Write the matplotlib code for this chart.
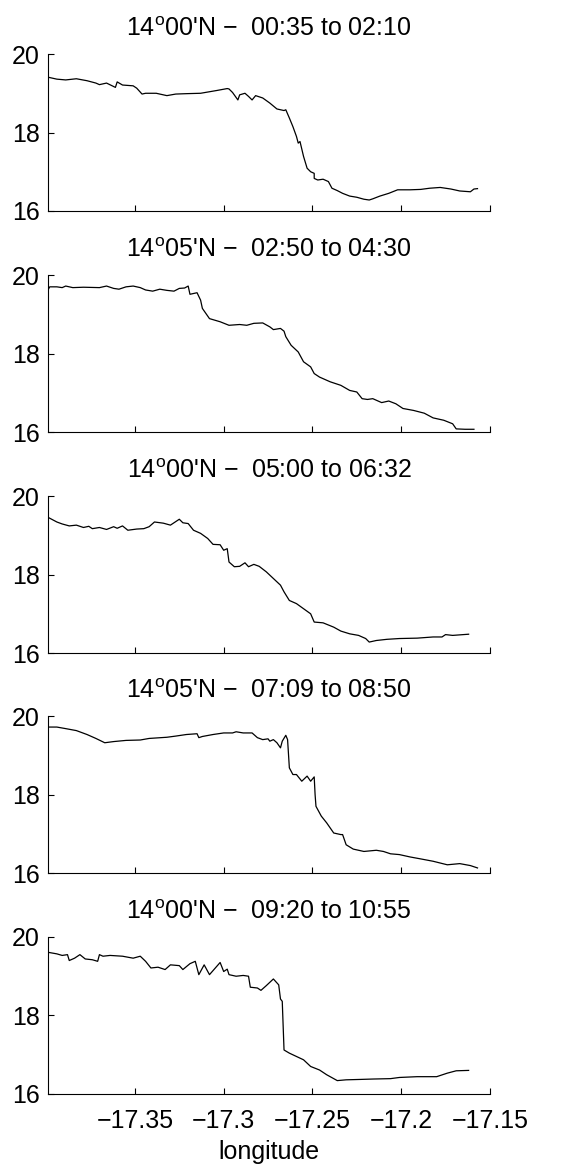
import matplotlib
matplotlib.use('Agg')
import matplotlib.pyplot as plt

plt.rcParams['font.family'] = ['Liberation Sans', 'DejaVu Sans']
plt.rcParams['mathtext.fontset'] = 'custom'
plt.rcParams['mathtext.rm'] = 'Liberation Sans'

# section titles
titles = [
    r"14$^{\mathrm{o}}$00'N $-$  00:35 to 02:10",
    r"14$^{\mathrm{o}}$05'N $-$  02:50 to 04:30",
    r"14$^{\mathrm{o}}$00'N $-$  05:00 to 06:32",
    r"14$^{\mathrm{o}}$05'N $-$  07:09 to 08:50",
    r"14$^{\mathrm{o}}$00'N $-$  09:20 to 10:55",
]

# section 1
lon1 = [-17.399, -17.394, -17.389, -17.383, -17.377, -17.372, -17.370, -17.366, -17.361, -17.360,
        -17.357, -17.351, -17.349, -17.346, -17.344, -17.338, -17.332, -17.327, -17.321, -17.313,
        -17.304, -17.298, -17.297, -17.295, -17.292, -17.291, -17.288, -17.286, -17.284, -17.282,
        -17.278, -17.274, -17.270, -17.266, -17.265, -17.263, -17.261, -17.259, -17.258, -17.257,
        -17.255, -17.253, -17.251, -17.249, -17.249, -17.247, -17.244, -17.241, -17.239, -17.236,
        -17.233, -17.229, -17.225, -17.221, -17.218, -17.216, -17.212, -17.207, -17.202, -17.195,
        -17.189, -17.184, -17.178, -17.172, -17.167, -17.161, -17.159, -17.157]
val1 = [19.41, 19.36, 19.34, 19.37, 19.32, 19.26, 19.22, 19.26, 19.15, 19.29,
        19.21, 19.19, 19.13, 18.98, 19.00, 19.00, 18.94, 18.98, 18.99, 19.00,
        19.07, 19.12, 19.11, 19.02, 18.83, 18.96, 19.00, 18.92, 18.83, 18.94,
        18.88, 18.75, 18.60, 18.56, 18.58, 18.37, 18.15, 17.90, 17.73, 17.77,
        17.39, 17.09, 17.00, 16.96, 16.83, 16.79, 16.81, 16.75, 16.58, 16.52,
        16.45, 16.38, 16.35, 16.30, 16.28, 16.31, 16.38, 16.45, 16.54, 16.54,
        16.55, 16.58, 16.60, 16.56, 16.51, 16.49, 16.56, 16.57]

# section 2
lon2 = [-17.399, -17.398, -17.394, -17.391, -17.389, -17.385, -17.379, -17.370, -17.366, -17.362,
        -17.359, -17.355, -17.351, -17.347, -17.344, -17.340, -17.336, -17.332, -17.328, -17.325,
        -17.322, -17.320, -17.319, -17.315, -17.313, -17.312, -17.308, -17.302, -17.297, -17.291,
        -17.287, -17.283, -17.278, -17.274, -17.272, -17.268, -17.266, -17.265, -17.262, -17.258,
        -17.255, -17.251, -17.249, -17.246, -17.240, -17.234, -17.229, -17.225, -17.222, -17.219,
        -17.216, -17.211, -17.207, -17.203, -17.199, -17.193, -17.187, -17.182, -17.176, -17.171,
        -17.169, -17.164, -17.159]
val2 = [19.62, 19.70, 19.70, 19.68, 19.72, 19.68, 19.69, 19.68, 19.72, 19.66,
        19.64, 19.70, 19.72, 19.68, 19.62, 19.59, 19.64, 19.61, 19.59, 19.66,
        19.67, 19.72, 19.51, 19.55, 19.36, 19.15, 18.89, 18.81, 18.72, 18.74,
        18.72, 18.77, 18.78, 18.68, 18.61, 18.64, 18.57, 18.43, 18.21, 18.04,
        17.79, 17.66, 17.49, 17.40, 17.28, 17.19, 17.06, 17.02, 16.85, 16.83,
        16.85, 16.75, 16.79, 16.72, 16.60, 16.55, 16.48, 16.36, 16.30, 16.21,
        16.08, 16.07, 16.07]

# section 3
lon3 = [-17.399, -17.394, -17.391, -17.387, -17.383, -17.379, -17.376, -17.374, -17.370, -17.366,
        -17.362, -17.360, -17.357, -17.354, -17.349, -17.345, -17.342, -17.339, -17.334, -17.330,
        -17.325, -17.323, -17.320, -17.317, -17.313, -17.309, -17.306, -17.302, -17.300, -17.298,
        -17.297, -17.294, -17.291, -17.288, -17.286, -17.283, -17.280, -17.276, -17.272, -17.268,
        -17.266, -17.263, -17.259, -17.255, -17.251, -17.249, -17.244, -17.238, -17.234, -17.229,
        -17.224, -17.220, -17.218, -17.214, -17.208, -17.201, -17.191, -17.182, -17.177, -17.175,
        -17.171, -17.162]
val3 = [19.46, 19.34, 19.29, 19.24, 19.26, 19.20, 19.23, 19.17, 19.20, 19.15,
        19.22, 19.18, 19.24, 19.13, 19.16, 19.17, 19.22, 19.34, 19.31, 19.26,
        19.41, 19.32, 19.30, 19.13, 19.05, 18.92, 18.77, 18.76, 18.62, 18.66,
        18.32, 18.20, 18.21, 18.30, 18.20, 18.26, 18.21, 18.07, 17.90, 17.73,
        17.56, 17.34, 17.26, 17.13, 17.00, 16.79, 16.77, 16.66, 16.56, 16.49,
        16.45, 16.37, 16.28, 16.32, 16.35, 16.37, 16.38, 16.41, 16.41, 16.47,
        16.45, 16.48]

# section 4
lon4 = [-17.399, -17.394, -17.389, -17.383, -17.377, -17.372, -17.367, -17.362, -17.355, -17.347,
        -17.342, -17.332, -17.327, -17.321, -17.315, -17.314, -17.312, -17.306, -17.300, -17.295,
        -17.293, -17.289, -17.284, -17.281, -17.278, -17.275, -17.274, -17.272, -17.270, -17.268,
        -17.267, -17.265, -17.264, -17.263, -17.261, -17.259, -17.256, -17.253, -17.251, -17.249,
        -17.2485, -17.248, -17.245, -17.242, -17.238, -17.234, -17.233, -17.231, -17.227, -17.221,
        -17.214, -17.210, -17.206, -17.201, -17.195, -17.189, -17.182, -17.174, -17.167, -17.161,
        -17.157]
val4 = [19.72, 19.72, 19.68, 19.63, 19.53, 19.43, 19.32, 19.35, 19.38, 19.39,
        19.43, 19.46, 19.49, 19.53, 19.55, 19.45, 19.48, 19.53, 19.57, 19.57,
        19.60, 19.57, 19.57, 19.45, 19.40, 19.42, 19.36, 19.40, 19.32, 19.19,
        19.36, 19.51, 19.40, 18.68, 18.51, 18.51, 18.34, 18.47, 18.34, 18.45,
        18.00, 17.70, 17.45, 17.28, 17.02, 16.98, 16.98, 16.72, 16.61, 16.55,
        16.58, 16.55, 16.49, 16.47, 16.41, 16.36, 16.30, 16.21, 16.24, 16.19,
        16.13]

# section 5
lon5 = [-17.399, -17.394, -17.391, -17.388, -17.387, -17.384, -17.381, -17.378, -17.374, -17.371,
        -17.370, -17.368, -17.364, -17.357, -17.351, -17.347, -17.344, -17.341, -17.337, -17.333,
        -17.330, -17.325, -17.323, -17.319, -17.316, -17.314, -17.311, -17.308, -17.302, -17.300,
        -17.298, -17.297, -17.293, -17.289, -17.286, -17.285, -17.281, -17.279, -17.276, -17.272,
        -17.269, -17.268, -17.267, -17.266, -17.263, -17.255, -17.251, -17.246, -17.242, -17.236,
        -17.231, -17.223, -17.216, -17.206, -17.201, -17.191, -17.180, -17.174, -17.169, -17.162]
val5 = [19.61, 19.57, 19.53, 19.55, 19.40, 19.46, 19.55, 19.44, 19.42, 19.38,
        19.55, 19.51, 19.53, 19.51, 19.46, 19.51, 19.38, 19.21, 19.23, 19.17,
        19.29, 19.27, 19.17, 19.32, 19.38, 19.04, 19.29, 19.04, 19.35, 19.12,
        19.18, 19.04, 19.00, 19.02, 19.00, 18.72, 18.70, 18.64, 18.76, 18.93,
        18.78, 18.42, 18.36, 17.12, 17.04, 16.87, 16.70, 16.61, 16.49, 16.34,
        16.36, 16.37, 16.38, 16.39, 16.42, 16.44, 16.44, 16.53, 16.59, 16.60]

lons = [lon1, lon2, lon3, lon4, lon5]
vals = [val1, val2, val3, val4, val5]

xticks = [-17.35, -17.3, -17.25, -17.2, -17.15]
xticklabels = ['-17.35', '-17.3', '-17.25', '-17.2', '-17.15']
yticks = [16, 18, 20]

fig = plt.figure(figsize=(5.71, 11.67), dpi=100)
bottoms = [0.8192, 0.6298, 0.4404, 0.2519, 0.0626]

for i in range(5):
    ax = fig.add_axes([0.084, bottoms[i], 0.774, 0.1345])
    ax.plot(lons[i], vals[i], color='black', lw=0.9)
    ax.set_xlim(-17.399, -17.15)
    ax.set_ylim(16, 20)
    ax.set_xticks(xticks)
    ax.set_yticks(yticks)
    ax.spines['top'].set_visible(False)
    ax.spines['right'].set_visible(False)
    ax.spines['left'].set_linewidth(0.8)
    ax.spines['bottom'].set_linewidth(0.8)
    ax.tick_params(direction='in', length=4, width=0.8, labelsize=18)
    ax.tick_params(axis='y', pad=6)
    ax.tick_params(axis='x', pad=11)
    ax.set_title(titles[i], fontsize=18, pad=13)
    if i < 4:
        ax.set_xticklabels([])
    else:
        ax.set_xticklabels([t.replace('-', '\u2212') for t in xticklabels])
        ax.set_xlabel('longitude', fontsize=18, labelpad=5)

fig.savefig('out.png', dpi=100)
